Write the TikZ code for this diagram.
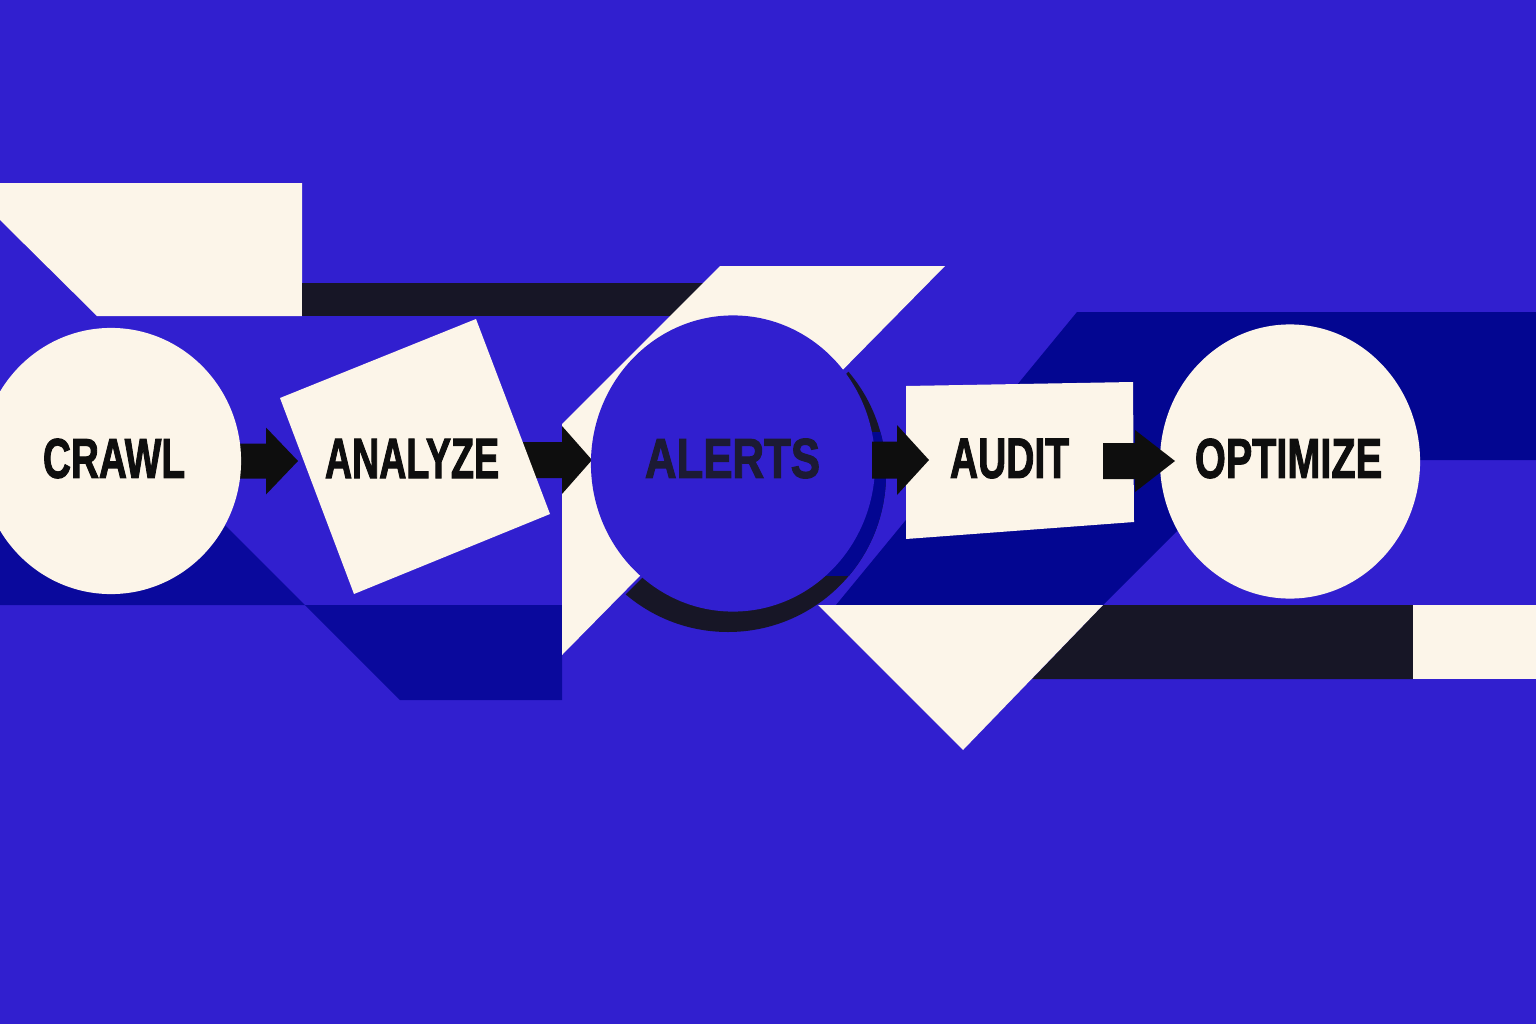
\documentclass[tikz,border=0pt]{standalone}
\usepackage{fontspec}
\setmainfont{Liberation Sans}
\newfontfamily\heavyfont[FakeBold=2.2]{Liberation Sans}
\usepackage{graphicx}
\usetikzlibrary{shapes.geometric}
\definecolor{bg}{RGB}{49,31,207}
\definecolor{cream}{RGB}{252,245,233}
\definecolor{navy}{RGB}{23,22,38}
\definecolor{band}{RGB}{3,6,145}
\definecolor{bandL}{RGB}{10,9,156}
\definecolor{ink}{RGB}{14,14,14}
\definecolor{inkdark}{RGB}{28,26,52}
\tikzset{
  creamfill/.style={fill=cream},
  arrowfill/.style={fill=ink},
  lbl/.style={inner sep=0pt, text=ink, anchor=center},
  roundshape/.style={ellipse, inner sep=0pt, fill=cream},
}
\newcommand{\steplabel}[2]{\resizebox{#1}{0.39cm}{\heavyfont\bfseries #2}}
% x0, xhead, xtip, y, shaft half, head half
\newcommand{\flowarrow}[6]{%
  \fill[arrowfill] (#1,{#4-#5}) -- (#2,{#4-#5}) -- (#2,{#4-#6}) -- (#3,#4)
    -- (#2,{#4+#6}) -- (#2,{#4+#5}) -- (#1,{#4+#5}) -- cycle;}
\begin{document}
\begin{tikzpicture}[x=0.01cm,y=-0.01cm]
\useasboundingbox (0,0) rectangle (1536,1024);
\fill[bg] (0,0) rectangle (1536,1024);
% dark bands
\fill[bandL] (0,440) -- (140,440) -- (305,605) -- (0,605) -- cycle;
\fill[bandL] (305,605) -- (562,605) -- (562,700) -- (400,700) -- cycle;
\fill[band] (1077,312) -- (1536,312) -- (1536,460) -- (1248,460) -- (1103,605) -- (836,605) -- cycle;
% top-left block and bar
\fill[creamfill] (0,183) -- (302,183) -- (302,316) -- (97,316) -- (0,220) -- cycle;
\fill[navy] (302,283) rectangle (720,316);
% big cream parallelogram
\fill[creamfill] (720,266) -- (945,266) -- (562,655) -- (562,424) -- cycle;
% bottom right pieces
\fill[navy] (1103,605) -- (1413,605) -- (1413,679) -- (1032,679) -- cycle;
\fill[creamfill] (818,605) -- (1103,605) -- (963,750) -- cycle;
\fill[creamfill] (1413,605) rectangle (1536,679);
% arrows under shapes
\flowarrow{225}{266}{298}{461}{17.5}{33.5}
\flowarrow{518}{562}{592}{460}{18}{34}
% CRAWL
\node[roundshape, minimum width=2.60cm, minimum height=2.66cm] (crawl) at (111,461) {};
% ANALYZE
\fill[creamfill] (280,398) -- (476,319) -- (550,514) -- (354,594) -- cycle;
\coordinate (analyze) at (415,456);
% ALERTS shadow
\begin{scope}
  \clip (1220,0) -- (1536,0) -- (1536,1024) -- (196,1024) -- cycle;
  \fill[navy] (728,474) circle[radius=158];
  \clip (800,432) rectangle (1000,575);
  \fill[band] (728,474) circle[radius=158];
\end{scope}
\node[ellipse, inner sep=0pt, fill=bg, draw=bg, line width=0.04cm,
      minimum width=2.80cm, minimum height=2.92cm] (alerts) at (733,463.5) {};
% AUDIT
\fill[creamfill] (906,386) -- (1133,382) -- (1134,522) -- (906,539) -- cycle;
\coordinate (audit) at (1020,460);
% OPTIMIZE
\node[roundshape, minimum width=2.60cm, minimum height=2.74cm] (optimize) at (1290,461.5) {};
% arrows on top
\flowarrow{872}{897}{929}{460}{18.5}{35}
\flowarrow{1103}{1135}{1175}{461}{18}{31}
% labels
\node[lbl] (crawltext) at (114,458.5) {\steplabel{1.42cm}{CRAWL}};
\node[lbl] (analyzetext) at (412,458.5) {\steplabel{1.74cm}{ANALYZE}};
\node[lbl, text=inkdark] (alertstext) at (732.5,458.5) {\steplabel{1.75cm}{ALERTS}};
\node[lbl] (audittext) at (1009.5,458.5) {\steplabel{1.19cm}{AUDIT}};
\node[lbl] (optimizetext) at (1288.5,458.5) {\steplabel{1.87cm}{OPTIMIZE}};
\end{tikzpicture}
\end{document}
